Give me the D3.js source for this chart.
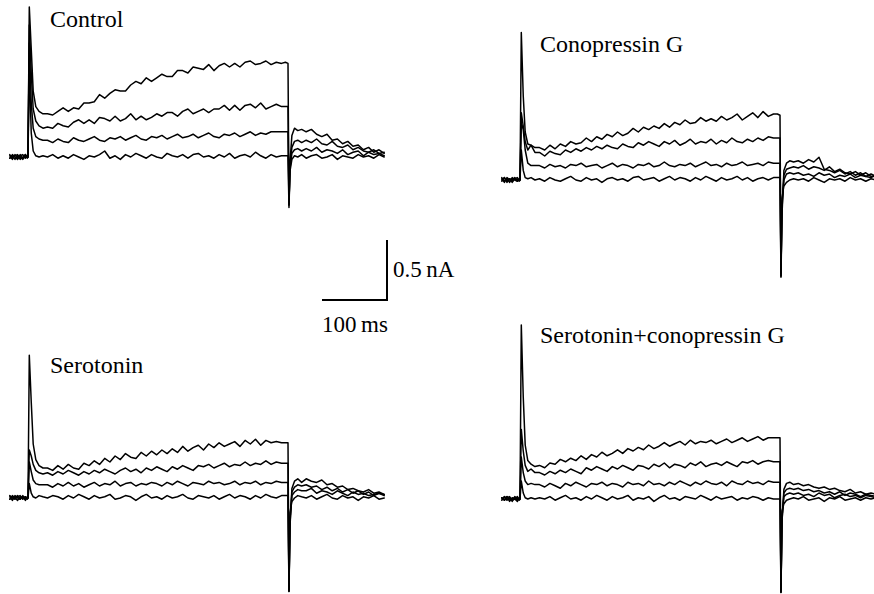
<!DOCTYPE html>
<html>
<head>
<meta charset="utf-8">
<script src="https://cdn.jsdelivr.net/npm/d3@7"></script>
<style>
  html, body { margin: 0; padding: 0; background: #ffffff; }
  svg { display: block; }
  text { font-family: "Liberation Serif", "Times New Roman", serif; fill: #000; }
</style>
</head>
<body>
<svg id="chart" width="874" height="594"></svg>
<script>
// Sample times (ms) relative to the onset of the 400 ms depolarising step
const timeMs = [
  -28, -24, -20, -16, -12, -8, -4, -1,
  0, 2, 5, 8, 12, 17, 23,
  30, 38, 46, 54, 62, 70, 78, 86, 94, 102, 110, 118, 126, 134, 142, 150, 158, 166, 174, 182, 190, 198, 206,
  214, 222, 230, 238, 246, 254, 262, 270, 278, 286, 294, 302, 310, 318, 326, 334, 342, 350, 358, 366, 374, 382, 390,
  396, 400, 401.5, 403, 406, 410, 415, 421,
  428, 436, 444, 452, 460, 468, 476, 484, 492, 500, 508, 516, 524, 532, 540, 548
];

// Membrane currents (nA), four step potentials per condition
const controlTraces = [
  [ 0.01, -0.02, 0.02, -0.01, 0.02, -0.02, 0.01, 0.00,
    0.00, 1.25, 0.90, 0.55, 0.42, 0.38, 0.36,
    0.36, 0.35, 0.38, 0.41, 0.38, 0.41, 0.40, 0.45, 0.45, 0.46, 0.52, 0.49, 0.53, 0.56, 0.55, 0.55, 0.60, 0.63, 0.61, 0.66, 0.63, 0.66, 0.69,
    0.67, 0.67, 0.72, 0.72, 0.70, 0.75, 0.74, 0.73, 0.77, 0.72, 0.76, 0.78, 0.75, 0.78, 0.75, 0.79, 0.80, 0.77, 0.78, 0.80, 0.77, 0.79, 0.78,
    0.79, 0.78, -0.40, -0.05, 0.18, 0.24, 0.22, 0.23,
    0.21, 0.23, 0.19, 0.17, 0.19, 0.14, 0.15, 0.11, 0.13, 0.09, 0.10, 0.06, 0.08, 0.04, 0.06, 0.03 ],
  [ -0.01, 0.02, 0.00, -0.02, 0.01, 0.02, -0.01, 0.01,
    0.00, 1.10, 0.70, 0.40, 0.30, 0.26, 0.24,
    0.25, 0.24, 0.28, 0.26, 0.25, 0.29, 0.31, 0.28, 0.31, 0.28, 0.33, 0.32, 0.30, 0.34, 0.30, 0.32, 0.36, 0.31, 0.34, 0.31, 0.33, 0.36, 0.34,
    0.37, 0.37, 0.34, 0.38, 0.40, 0.36, 0.38, 0.40, 0.37, 0.40, 0.40, 0.43, 0.39, 0.43, 0.39, 0.43, 0.44, 0.41, 0.45, 0.40, 0.42, 0.44, 0.42,
    0.42, 0.42, -0.38, -0.08, 0.08, 0.13, 0.14, 0.12,
    0.14, 0.12, 0.15, 0.11, 0.10, 0.13, 0.09, 0.08, 0.10, 0.06, 0.08, 0.05, 0.04, 0.06, 0.03, 0.04 ],
  [ 0.02, -0.01, 0.01, 0.02, -0.02, 0.00, 0.02, -0.01,
    0.00, 0.95, 0.45, 0.24, 0.17, 0.15, 0.14,
    0.14, 0.12, 0.15, 0.13, 0.12, 0.16, 0.14, 0.13, 0.15, 0.17, 0.14, 0.13, 0.16, 0.15, 0.17, 0.14, 0.16, 0.18, 0.15, 0.14, 0.17, 0.16, 0.18,
    0.15, 0.17, 0.19, 0.16, 0.17, 0.19, 0.16, 0.18, 0.20, 0.17, 0.16, 0.19, 0.18, 0.20, 0.17, 0.19, 0.21, 0.18, 0.20, 0.19, 0.21, 0.21, 0.21,
    0.21, 0.21, -0.40, -0.10, 0.03, 0.06, 0.07, 0.05,
    0.07, 0.05, 0.08, 0.04, 0.06, 0.05, 0.03, 0.06, 0.02, 0.04, 0.05, 0.01, 0.04, 0.02, 0.03, 0.01 ],
  [ -0.01, 0.01, -0.02, 0.01, 0.00, -0.01, 0.02, 0.00,
    0.00, 0.75, 0.20, 0.05, 0.01, 0.00, 0.01,
    0.00, 0.02, -0.01, 0.01, -0.01, 0.02, 0.00, -0.02, 0.01, 0.00, 0.02, 0.05, -0.01, 0.01, -0.02, 0.02, 0.00, 0.03, 0.01, -0.01, 0.02, 0.00, -0.01,
    0.03, 0.01, 0.00, 0.02, -0.01, 0.02, 0.03, 0.00, 0.01, -0.01, 0.02, 0.00, 0.03, -0.01, 0.01, 0.02, 0.00, 0.04, 0.01, -0.01, 0.02, 0.00, 0.01,
    0.01, 0.01, -0.42, -0.12, -0.02, 0.01, 0.00, 0.02,
    -0.01, 0.01, 0.02, -0.01, 0.00, 0.02, -0.02, 0.01, 0.00, -0.01, 0.02, 0.00, 0.01, -0.01, 0.02, 0.00 ]
];

const conopressinTraces = [
  [ 0.02, -0.01, 0.01, -0.02, 0.02, 0.00, -0.01, 0.01,
    0.00, 1.23, 0.70, 0.40, 0.30, 0.29, 0.27,
    0.27, 0.25, 0.29, 0.26, 0.30, 0.28, 0.32, 0.30, 0.31, 0.35, 0.32, 0.36, 0.34, 0.38, 0.36, 0.40, 0.37, 0.39, 0.43, 0.40, 0.44, 0.42, 0.45,
    0.43, 0.47, 0.44, 0.48, 0.46, 0.50, 0.47, 0.48, 0.52, 0.49, 0.51, 0.49, 0.53, 0.50, 0.52, 0.55, 0.50, 0.53, 0.56, 0.52, 0.57, 0.53, 0.55,
    0.55, 0.54, -0.81, -0.30, 0.08, 0.14, 0.16, 0.15,
    0.16, 0.14, 0.17, 0.15, 0.19, 0.09, 0.08, 0.06, 0.08, 0.05, 0.07, 0.04, 0.06, 0.03, 0.05, 0.03 ],
  [ -0.01, 0.02, -0.02, 0.01, 0.00, 0.02, -0.01, 0.00,
    0.00, 0.56, 0.45, 0.32, 0.25, 0.29, 0.23,
    0.23, 0.20, 0.24, 0.22, 0.21, 0.25, 0.23, 0.26, 0.24, 0.27, 0.25, 0.28, 0.26, 0.29, 0.27, 0.26, 0.30, 0.28, 0.27, 0.31, 0.29, 0.32, 0.30,
    0.28, 0.32, 0.30, 0.33, 0.29, 0.31, 0.34, 0.30, 0.32, 0.31, 0.34, 0.30, 0.33, 0.31, 0.35, 0.32, 0.31, 0.34, 0.32, 0.35, 0.33, 0.36, 0.35,
    0.35, 0.35, -0.78, -0.25, 0.04, 0.09, 0.10, 0.11,
    0.10, 0.12, 0.09, 0.11, 0.10, 0.08, 0.11, 0.07, 0.09, 0.06, 0.05, 0.07, 0.04, 0.06, 0.03, 0.04 ],
  [ 0.01, -0.02, 0.02, 0.00, -0.01, 0.01, 0.02, -0.01,
    0.00, 0.48, 0.42, 0.25, 0.14, 0.12, 0.12,
    0.12, 0.10, 0.13, 0.11, 0.12, 0.10, 0.13, 0.12, 0.14, 0.11, 0.12, 0.13, 0.10, 0.12, 0.14, 0.11, 0.13, 0.12, 0.10, 0.13, 0.12, 0.14, 0.11,
    0.12, 0.15, 0.12, 0.11, 0.13, 0.12, 0.14, 0.11, 0.13, 0.15, 0.12, 0.13, 0.11, 0.14, 0.12, 0.13, 0.15, 0.12, 0.13, 0.14, 0.12, 0.15, 0.14,
    0.14, 0.14, -0.80, -0.20, 0.00, 0.05, 0.06, 0.05,
    0.06, 0.04, 0.05, 0.03, 0.06, 0.04, 0.05, 0.02, 0.04, 0.03, 0.05, 0.02, 0.04, 0.03, 0.02, 0.04 ],
  [ 0.00, 0.02, -0.01, 0.01, -0.02, 0.01, 0.00, 0.01,
    0.00, 0.25, 0.08, 0.02, 0.01, 0.02, 0.00,
    0.01, -0.01, 0.02, 0.00, -0.01, 0.01, 0.03, 0.00, -0.01, 0.02, 0.00, 0.01, -0.02, 0.01, 0.02, 0.00, 0.01, -0.01, 0.02, 0.03, 0.00, 0.01, 0.02,
    -0.01, 0.01, 0.03, 0.00, 0.02, 0.01, -0.01, 0.02, 0.00, 0.03, 0.01, -0.01, 0.02, 0.00, 0.01, 0.03, 0.00, 0.02, -0.01, 0.01, 0.02, 0.00, 0.02,
    0.02, 0.02, -0.80, -0.15, -0.05, -0.02, 0.00, 0.01,
    0.00, 0.01, -0.01, 0.02, 0.00, -0.02, 0.01, 0.00, 0.01, -0.01, 0.02, 0.00, 0.01, -0.01, 0.01, 0.00 ]
];

const serotoninTraces = [
  [ 0.01, -0.02, 0.02, 0.00, -0.01, 0.02, -0.01, 0.00,
    0.00, 1.19, 0.80, 0.45, 0.32, 0.27, 0.25,
    0.25, 0.23, 0.27, 0.24, 0.28, 0.25, 0.24, 0.29, 0.27, 0.31, 0.28, 0.33, 0.30, 0.35, 0.32, 0.37, 0.34, 0.33, 0.38, 0.35, 0.39, 0.36, 0.40,
    0.37, 0.41, 0.38, 0.43, 0.39, 0.42, 0.44, 0.40, 0.45, 0.42, 0.46, 0.43, 0.45, 0.47, 0.43, 0.48, 0.45, 0.49, 0.44, 0.48, 0.46, 0.47, 0.46,
    0.46, 0.46, -0.78, -0.25, 0.08, 0.14, 0.16, 0.13,
    0.16, 0.14, 0.13, 0.15, 0.11, 0.12, 0.09, 0.10, 0.07, 0.08, 0.06, 0.05, 0.07, 0.04, 0.05, 0.03 ],
  [ -0.01, 0.01, 0.00, 0.02, -0.01, 0.01, -0.02, 0.01,
    0.00, 0.40, 0.35, 0.28, 0.23, 0.21, 0.20,
    0.21, 0.19, 0.22, 0.20, 0.23, 0.21, 0.19, 0.22, 0.20, 0.23, 0.21, 0.24, 0.22, 0.20, 0.23, 0.25, 0.22, 0.24, 0.21, 0.25, 0.23, 0.26, 0.24,
    0.22, 0.26, 0.24, 0.27, 0.25, 0.23, 0.27, 0.26, 0.28, 0.25, 0.27, 0.29, 0.26, 0.28, 0.27, 0.30, 0.27, 0.29, 0.28, 0.31, 0.28, 0.30, 0.29,
    0.29, 0.29, -0.76, -0.22, 0.05, 0.09, 0.11, 0.10,
    0.11, 0.09, 0.10, 0.07, 0.09, 0.06, 0.08, 0.05, 0.07, 0.04, 0.06, 0.03, 0.05, 0.02, 0.04, 0.03 ],
  [ 0.02, 0.00, -0.01, 0.01, 0.02, -0.01, 0.01, 0.00,
    0.00, 0.30, 0.22, 0.15, 0.12, 0.11, 0.11,
    0.11, 0.09, 0.12, 0.10, 0.13, 0.10, 0.12, 0.09, 0.11, 0.13, 0.10, 0.12, 0.11, 0.14, 0.10, 0.12, 0.13, 0.10, 0.12, 0.11, 0.13, 0.12, 0.10,
    0.13, 0.11, 0.14, 0.12, 0.10, 0.13, 0.12, 0.11, 0.14, 0.12, 0.13, 0.11, 0.12, 0.14, 0.11, 0.13, 0.12, 0.14, 0.11, 0.13, 0.12, 0.14, 0.13,
    0.13, 0.13, -0.77, -0.18, 0.02, 0.05, 0.07, 0.06,
    0.06, 0.08, 0.04, 0.06, 0.05, 0.03, 0.06, 0.04, 0.02, 0.05, 0.03, 0.04, 0.02, 0.03, 0.04, 0.02 ],
  [ -0.01, 0.02, 0.00, -0.02, 0.01, 0.00, 0.01, -0.01,
    0.00, 0.12, 0.04, 0.01, 0.00, 0.02, 0.01,
    0.00, 0.02, 0.01, -0.01, 0.02, 0.00, 0.03, 0.01, -0.01, 0.02, 0.00, 0.01, 0.03, -0.01, 0.00, 0.02, 0.01, -0.02, 0.01, 0.03, 0.00, 0.01, -0.01,
    0.02, 0.00, 0.01, 0.03, 0.00, -0.01, 0.02, 0.01, 0.00, 0.02, -0.01, 0.01, 0.03, 0.00, 0.02, 0.01, -0.01, 0.02, 0.00, 0.03, 0.01, 0.00, 0.02,
    0.02, 0.02, -0.78, -0.12, -0.03, 0.00, 0.02, 0.01,
    0.00, 0.02, -0.01, 0.01, 0.03, 0.00, -0.01, 0.02, 0.00, 0.01, -0.02, 0.01, 0.00, 0.02, -0.01, 0.00 ]
];

const serotoninConopressinTraces = [
  [ 0.01, -0.01, 0.02, -0.02, 0.01, 0.00, 0.02, -0.01,
    0.00, 1.45, 0.85, 0.45, 0.32, 0.29, 0.27,
    0.28, 0.26, 0.30, 0.29, 0.33, 0.31, 0.34, 0.32, 0.36, 0.33, 0.37, 0.35, 0.39, 0.36, 0.38, 0.41, 0.38, 0.42, 0.40, 0.43, 0.41, 0.45, 0.42,
    0.44, 0.47, 0.44, 0.46, 0.48, 0.45, 0.49, 0.46, 0.48, 0.47, 0.49, 0.46, 0.48, 0.50, 0.47, 0.49, 0.51, 0.48, 0.50, 0.52, 0.49, 0.51, 0.51,
    0.51, 0.51, -0.78, -0.20, 0.08, 0.13, 0.14, 0.12,
    0.13, 0.11, 0.12, 0.10, 0.09, 0.10, 0.08, 0.09, 0.07, 0.06, 0.08, 0.05, 0.06, 0.04, 0.05, 0.04 ],
  [ 0.00, 0.02, -0.01, 0.01, -0.02, 0.02, 0.00, 0.01,
    0.00, 0.58, 0.40, 0.28, 0.23, 0.25, 0.22,
    0.22, 0.20, 0.23, 0.21, 0.24, 0.22, 0.25, 0.23, 0.21, 0.26, 0.24, 0.27, 0.25, 0.23, 0.27, 0.25, 0.28, 0.26, 0.24, 0.28, 0.27, 0.25, 0.29,
    0.27, 0.30, 0.26, 0.29, 0.28, 0.26, 0.30, 0.28, 0.31, 0.27, 0.29, 0.30, 0.28, 0.31, 0.29, 0.27, 0.31, 0.30, 0.32, 0.29, 0.31, 0.32, 0.31,
    0.31, 0.31, -0.77, -0.18, 0.05, 0.08, 0.09, 0.08,
    0.09, 0.07, 0.08, 0.06, 0.07, 0.05, 0.06, 0.04, 0.06, 0.03, 0.05, 0.04, 0.02, 0.04, 0.03, 0.02 ],
  [ 0.01, -0.01, 0.01, 0.02, -0.01, 0.00, -0.02, 0.01,
    0.00, 0.35, 0.22, 0.15, 0.12, 0.13, 0.12,
    0.12, 0.10, 0.13, 0.11, 0.09, 0.13, 0.11, 0.14, 0.12, 0.10, 0.13, 0.12, 0.14, 0.11, 0.13, 0.12, 0.10, 0.14, 0.12, 0.13, 0.11, 0.15, 0.12,
    0.13, 0.11, 0.14, 0.12, 0.15, 0.13, 0.11, 0.14, 0.12, 0.15, 0.13, 0.12, 0.14, 0.11, 0.15, 0.13, 0.12, 0.15, 0.13, 0.14, 0.12, 0.15, 0.14,
    0.14, 0.14, -0.77, -0.15, 0.02, 0.04, 0.05, 0.04,
    0.05, 0.03, 0.04, 0.02, 0.05, 0.03, 0.04, 0.01, 0.03, 0.04, 0.02, 0.03, 0.01, 0.03, 0.02, 0.01 ],
  [ -0.01, 0.01, 0.02, -0.01, 0.00, 0.01, -0.01, 0.00,
    0.00, 0.15, 0.05, 0.01, 0.00, 0.01, 0.00,
    0.01, 0.00, 0.02, -0.01, 0.01, 0.03, 0.00, 0.01, -0.01, 0.02, 0.00, 0.03, 0.01, -0.01, 0.02, 0.00, 0.01, 0.03, -0.01, 0.01, 0.00, 0.02, -0.02,
    0.01, 0.03, 0.00, 0.01, -0.01, 0.02, 0.01, 0.00, 0.03, 0.01, -0.01, 0.02, 0.00, 0.01, 0.02, -0.01, 0.01, 0.00, 0.02, 0.01, -0.01, 0.01, 0.00,
    0.00, 0.00, -0.78, -0.10, -0.04, -0.01, 0.00, 0.01,
    0.00, 0.02, -0.01, 0.00, 0.01, -0.02, 0.01, 0.00, 0.02, -0.01, 0.00, 0.01, -0.01, 0.01, 0.00, 0.01 ]
];

const panelTitles = ["Control", "Conopressin G", "Serotonin", "Serotonin+conopressin G"];
const panelTraces = [controlTraces, conopressinTraces, serotoninTraces, serotoninConopressinTraces];

// Scale bar values
const scaleBarTimeMs = 100;
const scaleBarCurrentNa = 0.5;
const scaleBarTimeLabel = "100\u2009ms";
const scaleBarCurrentLabel = "0.5\u2009nA";

// Layout: step-onset / zero-current origin of each panel, title anchor
const panelLayout = [
  { ox: 28,  oy: 157, tx: 50,  ty: 27 },
  { ox: 520, oy: 180, tx: 540, ty: 52 },
  { ox: 28,  oy: 498, tx: 50,  ty: 373 },
  { ox: 520, oy: 499, tx: 540, ty: 343 }
];

const svg = d3.select("#chart");
svg.append("rect").attr("width", 874).attr("height", 594).attr("fill", "#fff");

// Shared calibration: 100 ms = 65 px, 0.5 nA = 60 px
const x = d3.scaleLinear().domain([0, 100]).range([0, 65]);
const y = d3.scaleLinear().domain([0, 0.5]).range([0, -60]);

const line = d3.line()
  .x((d, i) => x(timeMs[i]))
  .y(d => y(d))
  .curve(d3.curveLinear);

panelTraces.forEach((traces, p) => {
  const L = panelLayout[p];
  const g = svg.append("g").attr("transform", `translate(${L.ox},${L.oy})`);
  g.selectAll("path.trace")
    .data(traces)
    .join("path")
    .attr("class", "trace")
    .attr("d", line)
    .attr("fill", "none")
    .attr("stroke", "#000")
    .attr("stroke-width", 1.5)
    .attr("stroke-linejoin", "round")
    .attr("stroke-linecap", "round");

  svg.append("text")
    .attr("x", L.tx)
    .attr("y", L.ty)
    .attr("font-size", 24)
    .text(panelTitles[p]);
});

// Calibration bars
const bar = svg.append("g").attr("transform", "translate(387,300)");
bar.append("path")
  .attr("d", `M${-x(scaleBarTimeMs)},0 H0 V${y(scaleBarCurrentNa)}`)
  .attr("fill", "none")
  .attr("stroke", "#000")
  .attr("stroke-width", 2);
bar.append("text")
  .attr("x", 6)
  .attr("y", y(scaleBarCurrentNa) / 2 + 7)
  .attr("font-size", 23)
  .text(scaleBarCurrentLabel);
bar.append("text")
  .attr("x", -x(scaleBarTimeMs))
  .attr("y", 32)
  .attr("font-size", 23)
  .text(scaleBarTimeLabel);
</script>
</body>
</html>
